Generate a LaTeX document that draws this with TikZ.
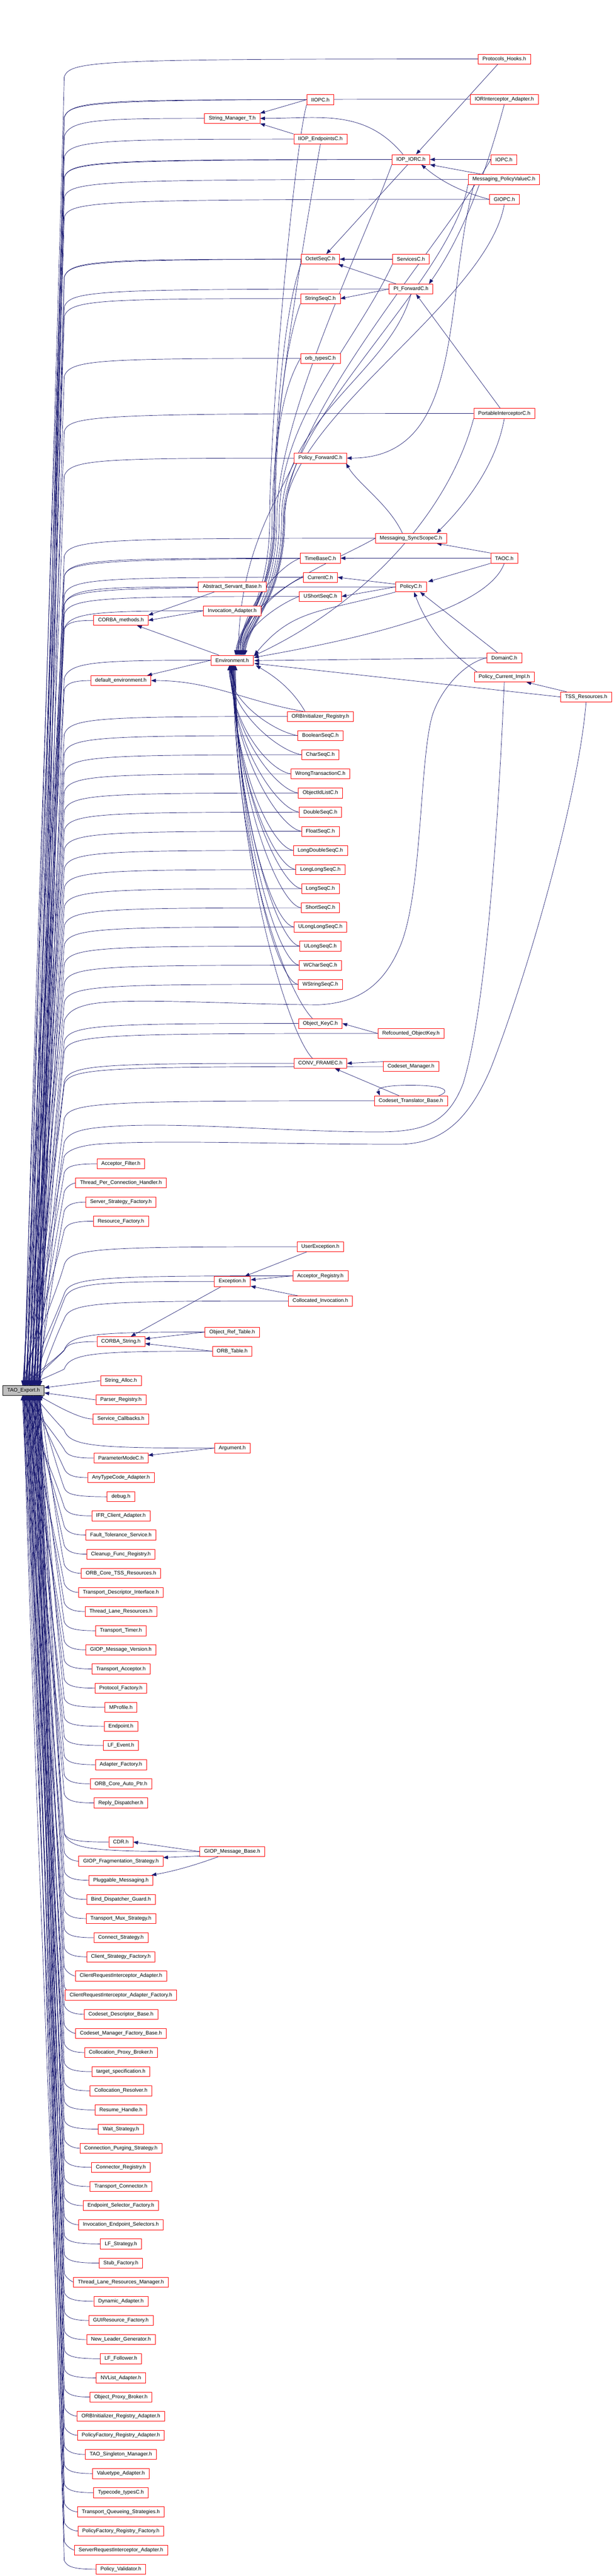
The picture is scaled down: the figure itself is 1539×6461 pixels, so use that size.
\documentclass[tikz,border=0pt]{standalone}
\usepackage{fontspec}
\setmainfont{Liberation Sans}
\usetikzlibrary{arrows.meta,calc}
\definecolor{navy}{HTML}{191970}
\definecolor{nred}{HTML}{FF0000}
\definecolor{rootgray}{HTML}{BFBFBF}
\pgfdeclarelayer{bg}\pgfsetlayers{bg,main}
\newcount\ek
\newcommand\rootx{\global\advance\ek by 1\relax\pgfmathtruncatemacro\qex{56+mod(\the\ek*13,46)}}
\newcommand\rup[2]{\rootx\pgfmathsetmacro\qny{#2}\pgfmathsetmacro\qby{\qny+45}%
 \pgfmathsetmacro\qca{\qby+(3475-\qby)*0.25}\pgfmathsetmacro\qcb{3475-(3475-\qby)*0.2}%
 \draw[e] (#1.west) .. controls (240,\qny) and (175,{\qny+4}) .. (161,\qby) .. controls (140,\qca) and ({\qex+12},\qcb) .. (\qex,3475);}
\newcommand\rupc[2]{\rootx\pgfmathsetmacro\qny{#2}\pgfmathsetmacro\qby{\qny+22}%
 \pgfmathsetmacro\qca{\qby+(3475-\qby)*0.25}\pgfmathsetmacro\qcb{3475-(3475-\qby)*0.2}%
 \draw[e] (#1.west) .. controls (185,\qny) and (168,{\qny+6}) .. (161,\qby) .. controls (140,\qca) and ({\qex+12},\qcb) .. (\qex,3475);}
\newcommand\rdn[2]{\rootx\pgfmathsetmacro\qny{#2}\pgfmathsetmacro\qby{\qny-45}%
 \pgfmathsetmacro\qca{\qby-(\qby-3500)*0.25}\pgfmathsetmacro\qcb{3500+(\qby-3500)*0.2}%
 \draw[e] (#1.west) .. controls (240,\qny) and (175,{\qny-4}) .. (161,\qby) .. controls (140,\qca) and ({\qex+12},\qcb) .. (\qex,3500);}
\newcommand\rdnc[2]{\rootx\pgfmathsetmacro\qny{#2}\pgfmathsetmacro\qby{\qny-22}%
 \pgfmathsetmacro\qca{\qby-(\qby-3500)*0.25}\pgfmathsetmacro\qcb{3500+(\qby-3500)*0.2}%
 \draw[e] (#1.west) .. controls (185,\qny) and (168,{\qny-6}) .. (161,\qby) .. controls (140,\qca) and ({\qex+12},\qcb) .. (\qex,3500);}
\newcommand\eup[5]{\draw[e] (#1) .. controls +(#3:#4pt) and +(90:#5pt) .. ($(env.north)+(#2,0)$);}
\newcommand\eupb[5]{\draw[e] (#1) .. controls +(#3:#4pt) and (#5,1050) .. (#5,1300) .. controls (#5,1500) and ({592+#2},1560) .. ($(env.north)+(#2,0)$);}
\newcommand\edn[3]{\pgfmathsetmacro\qkk{0.5*(#2-1668)}%
 \draw[e] (#1.west) .. controls +(-60,-10) and +({#3*0.3},\qkk) .. ($(env.south)+({#3},0)$);}
\tikzset{
 nb/.style={draw=nred, fill=white, line width=0.9pt, minimum height=25pt, inner xsep=11pt, inner ysep=0pt, font=\fontsize{13}{15}\selectfont},
 rootb/.style={nb, draw=black, fill=rootgray},
 e/.style={draw=navy, line width=0.9pt, -{Triangle[length=12pt,width=9pt]}}
}
\begin{document}
\begin{tikzpicture}[x=1pt,y=-1pt]
\useasboundingbox (0,0) rectangle (1539,6461);
\node[nb] (ph) at (1264,148) {Protocols\_Hooks.h};
\node[nb] (ioria) at (1264,249) {IORInterceptor\_Adapter.h};
\node[nb] (iopc) at (1263,400) {IOPC.h};
\node[nb] (mpv) at (1263,450) {Messaging\_PolicyValueC.h};
\node[nb] (giopc) at (1264,500) {GIOPC.h};
\node[nb] (pic) at (1264,1037) {PortableInterceptorC.h};
\node[nb] (taoc) at (1264,1400) {TAOC.h};
\node[nb] (domc) at (1264,1650) {DomainC.h};
\node[nb] (pci) at (1264,1698) {Policy\_Current\_Impl.h};
\node[nb] (tss) at (1469,1748) {TSS\_Resources.h};
\node[nb] (iopior) at (1030,400) {IOP\_IORC.h};
\node[nb] (svc) at (1030,650) {ServicesC.h};
\node[nb] (pif) at (1030,725) {PI\_ForwardC.h};
\node[nb] (mss) at (1030,1350) {Messaging\_SyncScopeC.h};
\node[nb] (polc) at (1030,1472) {PolicyC.h};
\node[nb] (rok) at (1030,2592) {Refcounted\_ObjectKey.h};
\node[nb] (csm) at (1030,2675) {Codeset\_Manager.h};
\node[nb] (ctb) at (1030,2761) {Codeset\_Translator\_Base.h};
\node[nb] (iiopc) at (803,250) {IIOPC.h};
\node[nb] (iiope) at (803,349) {IIOP\_EndpointsC.h};
\node[nb] (oct) at (803,650) {OctetSeqC.h};
\node[nb] (strseq) at (803,749) {StringSeqC.h};
\node[nb] (orbt) at (803,899) {orb\_typesC.h};
\node[nb] (polf) at (803,1149) {Policy\_ForwardC.h};
\node[nb] (tb) at (803,1400) {TimeBaseC.h};
\node[nb] (cur) at (803,1448) {CurrentC.h};
\node[nb] (uss) at (803,1496) {UShortSeqC.h};
\node[nb] (oir) at (803,1797) {ORBInitializer\_Registry.h};
\foreach \t [count=\i] in {BooleanSeqC.h,CharSeqC.h,WrongTransactionC.h,ObjectIdListC.h,DoubleSeqC.h,FloatSeqC.h,LongDoubleSeqC.h,LongLongSeqC.h,LongSeqC.h,ShortSeqC.h,ULongLongSeqC.h,ULongSeqC.h,WCharSeqC.h,WStringSeqC.h}
  \node[nb] (S\i) at (803,{1845+48*(\i-1)}) {\t};
\node[nb] (ok) at (803,2567) {Object\_KeyC.h};
\node[nb] (cf) at (803,2667) {CONV\_FRAMEC.h};
\node[nb] (uex) at (803,3127) {UserException.h};
\node[nb] (areg) at (803,3200) {Acceptor\_Registry.h};
\node[nb] (cinv) at (803,3263) {Collocated\_Invocation.h};
\node[nb] (smt) at (582,297) {String\_Manager\_T.h};
\node[nb] (asb) at (582,1472) {Abstract\_Servant\_Base.h};
\node[nb] (ia) at (582,1532) {Invocation\_Adapter.h};
\node[nb] (env) at (582,1656) {Environment.h};
\node[nb] (exc) at (582,3214) {Exception.h};
\node[nb] (ort) at (582,3341) {Object\_Ref\_Table.h};
\node[nb] (orbtab) at (582,3389) {ORB\_Table.h};
\node[nb] (arg) at (582,3632) {Argument.h};
\node[nb] (gmb) at (582,4644) {GIOP\_Message\_Base.h};
\node[nb] (cm) at (303,1556) {CORBA\_methods.h};
\node[nb] (de) at (303,1707) {default\_environment.h};
\node[nb] (af) at (303,2919) {Acceptor\_Filter.h};
\node[nb] (tpch) at (303,2967) {Thread\_Per\_Connection\_Handler.h};
\node[nb] (ssf) at (303,3015) {Server\_Strategy\_Factory.h};
\node[nb] (rf) at (303,3063) {Resource\_Factory.h};
\node[nb] (cs) at (303,3365) {CORBA\_String.h};
\node[nb] (sa) at (303,3463) {String\_Alloc.h};
\node[nb] (pr) at (303,3511) {Parser\_Registry.h};
\node[nb] (scb) at (303,3559) {Service\_Callbacks.h};
\node[nb] (pm) at (303,3657) {ParameterModeC.h};
\foreach \t [count=\i] in {AnyTypeCode\_Adapter.h,debug.h,IFR\_Client\_Adapter.h,Fault\_Tolerance\_Service.h,Cleanup\_Func\_Registry.h,ORB\_Core\_TSS\_Resources.h,Transport\_Descriptor\_Interface.h,Thread\_Lane\_Resources.h,Transport\_Timer.h,GIOP\_Message\_Version.h,Transport\_Acceptor.h,Protocol\_Factory.h,MProfile.h,Endpoint.h,LF\_Event.h,Adapter\_Factory.h,ORB\_Core\_Auto\_Ptr.h,Reply\_Dispatcher.h}
  \node[nb] (A\i) at (303,{3706+48*(\i-1)}) {\t};
\foreach \t [count=\i] in {CDR.h,GIOP\_Fragmentation\_Strategy.h,Pluggable\_Messaging.h,Bind\_Dispatcher\_Guard.h,Transport\_Mux\_Strategy.h,Connect\_Strategy.h,Client\_Strategy\_Factory.h,ClientRequestInterceptor\_Adapter.h,ClientRequestInterceptor\_Adapter\_Factory.h,Codeset\_Descriptor\_Base.h,Codeset\_Manager\_Factory\_Base.h,Collocation\_Proxy\_Broker.h,target\_specification.h,Collocation\_Resolver.h,Resume\_Handle.h,Wait\_Strategy.h,Connection\_Purging\_Strategy.h,Connector\_Registry.h,Transport\_Connector.h,Endpoint\_Selector\_Factory.h,Invocation\_Endpoint\_Selectors.h,LF\_Strategy.h,Stub\_Factory.h,Thread\_Lane\_Resources\_Manager.h,Dynamic\_Adapter.h,GUIResource\_Factory.h,New\_Leader\_Generator.h,LF\_Follower.h,NVList\_Adapter.h,Object\_Proxy\_Broker.h,ORBInitializer\_Registry\_Adapter.h,PolicyFactory\_Registry\_Adapter.h,TAO\_Singleton\_Manager.h,Valuetype\_Adapter.h,Typecode\_typesC.h,Transport\_Queueing\_Strategies.h,PolicyFactory\_Registry\_Factory.h,ServerRequestInterceptor\_Adapter.h,Policy\_Validator.h}
  \node[nb] (B\i) at (303,{4620+48*(\i-1)}) {\t};
\node[rootb] (root) at (59,3487.5) {TAO\_Export.h};

\begin{pgfonlayer}{bg}
\fill[white] (0,0) rectangle (1539,6461);
\rup{ph}{148}\rup{ioria}{249}\rup{iiopc}{250}\rup{smt}{297}\rup{iiope}{349}
\rup{iopc}{400}\rup{iopior}{400}\rup{mpv}{450}\rup{giopc}{500}\rup{oct}{650}
\rup{svc}{650}\rup{pif}{725}\rup{strseq}{749}\rup{orbt}{899}\rup{pic}{1037}
\rup{polf}{1149}\rup{mss}{1350}\rup{taoc}{1400}\rup{tb}{1400}\rup{cur}{1448}
\rup{asb}{1472}\rup{polc}{1472}\rup{uss}{1496}\rup{ia}{1532}\rup{env}{1656}
\rup{oir}{1797}
\foreach \i in {1,...,14}{\pgfmathsetmacro\yy{1845+48*(\i-1)}\rup{S\i}{\yy}}
\rup{ok}{2567}\rup{rok}{2592}\rup{cf}{2667}\rup{csm}{2675}\rup{ctb}{2761}
\rup{uex}{3127}\rup{areg}{3200}\rup{exc}{3214}\rup{cinv}{3263}\rup{ort}{3341}\rup{orbtab}{3389}
\rupc{cm}{1556}\rupc{de}{1707}\rupc{af}{2919}\rupc{tpch}{2967}\rupc{ssf}{3015}\rupc{rf}{3063}\rupc{cs}{3365}
\draw[e] (sa.west) -- ($(root.east)+(0,-7)$);
\draw[e] (pr.west) -- ($(root.east)+(0,6)$);
\draw[e] (scb.west) .. controls (200,3559) and (140,3525) .. (96,3500);
\rdn{arg}{3632}\rdn{gmb}{4644}\rdnc{pm}{3657}
\foreach \i in {1,...,18}{\pgfmathsetmacro\yy{3706+48*(\i-1)}\rdnc{A\i}{\yy}}
\foreach \i in {1,...,39}{\pgfmathsetmacro\yy{4620+48*(\i-1)}\rdnc{B\i}{\yy}}
\rootx
\draw[e] (domc.west) .. controls (1170,1660) and (1110,1720) .. (1085,1790) .. controls (1050,1900) and (1060,2250) .. (1000,2380) .. controls (960,2470) and (900,2515) .. (800,2520) .. controls (600,2520) and (300,2500) .. (220,2520) .. controls (185,2528) and (170,2540) .. (161,2560) .. controls (140,2800) and ({\qex+12},3300) .. (\qex,3475);
\rootx
\draw[e] (pci.south) .. controls (1258,1850) and (1230,2500) .. (1160,2720) .. controls (1120,2820) and (1060,2838) .. (950,2839) .. controls (700,2839) and (400,2808) .. (230,2830) .. controls (190,2836) and (170,2845) .. (161,2865) .. controls (140,3000) and ({\qex+12},3350) .. (\qex,3475);
\rootx
\draw[e] (tss.south) .. controls (1450,2000) and (1320,2450) .. (1230,2680) .. controls (1170,2820) and (1100,2869) .. (1000,2870) .. controls (700,2870) and (400,2858) .. (240,2870) .. controls (195,2875) and (170,2885) .. (161,2900) .. controls (140,3020) and ({\qex+12},3350) .. (\qex,3475);
\draw[e] (iiopc.west) -- (smt.north east);
\draw[e] ($(iopior.north west)+(28,0)$) .. controls +(130:150pt) and +(0:150pt) .. (smt.east);
\draw[e] (iiope.north west) -- (smt.south east);
\draw[e] (iopc.west) -- (iopior.east);
\draw[e] ($(mpv.north west)+(34,0)$) -- (iopior.south east);
\draw[e] (giopc.west) .. controls +(165:80pt) and +(-40:60pt) .. ($(iopior.south east)+(-22,0)$);
\draw[e] ($(ph.south west)+(50,0)$) -- ($(iopior.north east)+(-35,0)$);
\draw[e] (svc.west) -- (oct.east);
\draw[e] ($(iopior.south)+(-8,0)$) -- ($(oct.north)+(15,0)$);
\draw[e] ($(pif.north west)+(18,0)$) -- ($(oct.south east)+(-4,0)$);
\draw[e] (pif.west) -- (strseq.east);
\draw[e] (ioria.south) .. controls +(-105:180pt) and +(55:150pt) .. ($(pif.north east)+(-10,0)$);
\draw[e] ($(pic.north)+(-10,0)$) -- ($(pif.south)+(13,0)$);
\draw[e] (pic.south) .. controls +(-100:120pt) and +(45:100pt) .. ($(mss.north east)+(-25,0)$);
\draw[e] ($(mss.north west)+(68,0)$) .. controls +(115:80pt) and +(-60:60pt) .. ($(polf.south east)+(-2,0)$);
\draw[e] ($(mpv.south west)+(15,0)$) .. controls +(-105:300pt) and +(0:300pt) .. (polf.east);
\draw[e] (taoc.north west) -- ($(mss.south east)+(-25,0)$);
\draw[e] (taoc.west) -- (tb.east);
\draw[e] (taoc.south west) -- ($(polc.north east)+(4,0)$);
\draw[e] (polc.170) -- (cur.east);
\draw[e] (polc.west) -- (uss.east);
\draw[e] (polc.south west) .. controls +(195:200pt) and +(50:150pt) .. ($(env.north east)+(2,0)$);
\draw[e] ($(domc.north)+(-17,0)$) -- ($(polc.south)+(23,0)$);
\draw[e] ($(pci.north west)+(7,0)$) .. controls +(145:100pt) and +(-70:80pt) .. ($(polc.south)+(8,0)$);
\draw[e] ($(tss.north west)+(15,0)$) -- ($(pci.south east)+(-20,0)$);
\draw[e] (tss.west) -- ($(env.east)+(2,8)$);
\draw[e] (domc.west) -- ($(env.east)+(2,1)$);
\draw[e] (taoc.south) .. controls +(-110:120pt) and +(10:300pt) .. ($(env.north east)+(1,6)$);
\draw[e] (pic.south west) .. controls +(-105:250pt) and +(25:300pt) .. ($(env.north east)+(0,2)$);
\eupb{iiopc.south west}{14}{-105}{120}{676}
\eupb{iiope.south}{18}{-100}{120}{682}
\eupb{iopior.south west}{22}{-110}{220}{694}
\eupb{oct.south west}{10}{-110}{120}{688}
\eupb{svc.south west}{26}{-115}{220}{700}
\eupb{strseq.south west}{12}{-110}{100}{690}
\eupb{orbt.west}{8}{-120}{60}{686}
\eupb{pif.south}{24}{-105}{200}{706}
\eupb{giopc.south}{30}{-100}{250}{712}
\eupb{mpv.south west}{28}{-100}{250}{710}
\eupb{iopc.west}{32}{-120}{250}{714}
\eup{polf.south west}{16}{-115}{100}{250}
\eup{mss.west}{20}{-150}{120}{150}
\eup{tb.west}{20}{200}{60}{110}
\eup{cur.west}{24}{200}{50}{90}
\eup{uss.west}{28}{200}{45}{70}
\foreach \i in {1,...,14}{\pgfmathsetmacro\yy{1845+48*(\i-1)}\edn{S\i}{\yy}{(\i-7)*1.2}}
\draw[e] ($(ok.north)+(-20,0)$) .. controls +(-60,-60) and +(5,500) .. ($(env.south)+(2,0)$);
\draw[e] ($(cf.north)+(-20,0)$) .. controls +(-60,-60) and +(5,500) .. ($(env.south)+(4,0)$);
\draw[e] ($(oir.north west)+(45,0)$) .. controls +(120:60pt) and +(-30:60pt) .. ($(env.south east)+(6,0)$);
\draw[e] ($(oir.north west)+(40,0)$) .. controls +(170:150pt) and +(0:150pt) .. (de.east);
\draw[e] ($(asb.south)+(-45,0)$) -- (cm.north east);
\draw[e] (ia.west) -- (cm.east);
\draw[e] ($(env.north west)+(20,0)$) -- ($(cm.south east)+(-28,0)$);
\draw[e] (env.west) -- ($(de.north east)+(-10,0)$);
\draw[e] (rok.west) -- (ok.east);
\draw[e] (csm.170) -- (cf.east);
\draw[e] ($(ctb.north)+(-30,0)$) -- ($(cf.south east)+(-30,0)$);
\draw[e] ($(ctb.north)+(70,0)$) .. controls (1135,2735) and (1110,2722) .. (1030,2722) .. controls (960,2722) and (945,2730) .. ($(ctb.north)+(-78,0)$);
\draw[e] ($(uex.south west)+(25,0)$) -- ($(exc.north east)+(-14,0)$);
\draw[e] (areg.west) -- ($(exc.east)+(1,-4)$);
\draw[e] ($(cinv.north west)+(25,0)$) -- ($(exc.south east)+(1,-1)$);
\draw[e] ($(exc.south west)+(18,0)$) -- ($(cs.north)+(25,0)$);
\draw[e] (ort.west) -- ($(cs.east)+(0,-7)$);
\draw[e] (orbtab.west) -- ($(cs.east)+(0,5)$);
\draw[e] (arg.west) -- ($(pm.east)+(0,-7)$);
\draw[e] (gmb.west) -- (B1.east);
\draw[e] ($(gmb.south west)+(0,-2)$) -- ($(B2.east)+(0,-9)$);
\draw[e] ($(gmb.south)+(-35,0)$) .. controls +(-160:60pt) and +(10:60pt) .. ($(B3.north east)+(-4,0)$);
\end{pgfonlayer}
\end{tikzpicture}
\end{document}
